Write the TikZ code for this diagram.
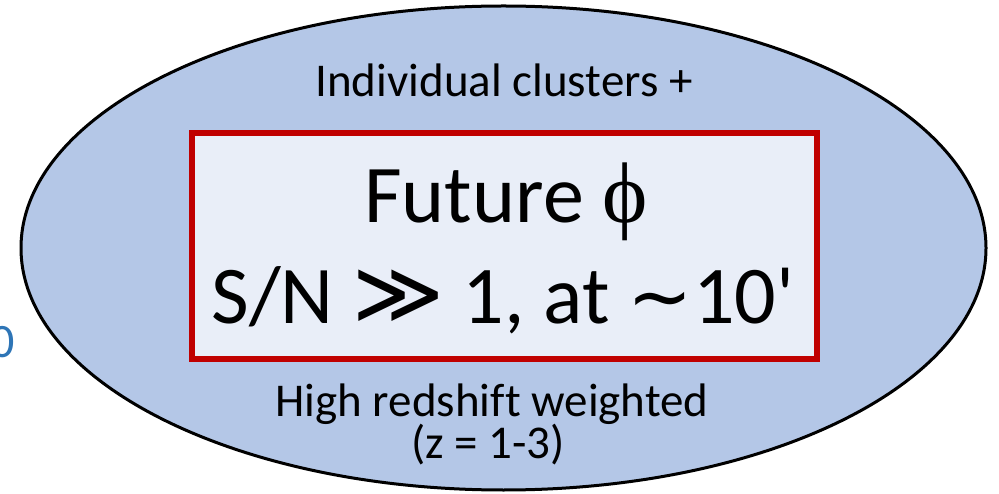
\documentclass[tikz,border=0pt]{standalone}
\usepackage{fontspec}
\setmainfont{Carlito}[Ligatures=NoCommon]
\newfontfamily\serifsym{Liberation Serif}
\newfontfamily\mathsym{DejaVu Sans}
\definecolor{ovalfill}{HTML}{B4C7E7}
\definecolor{boxfill}{HTML}{E9EEF8}
\definecolor{boxline}{HTML}{C00000}
\definecolor{sidetext}{HTML}{2E75B6}
\tikzset{
  oval/.style={draw=black, line width=3pt, fill=ovalfill},
  redbox/.style={draw=boxline, line width=6pt, fill=boxfill},
  midtext/.style={anchor=base, inner sep=0pt, font=\fontsize{47}{54}\selectfont},
  bigtext/.style={anchor=base, inner sep=0pt, font=\fontsize{82}{96}\selectfont}
}
\begin{document}
\begin{tikzpicture}[x=1pt,y=-1pt]
  \useasboundingbox (0,0) rectangle (999,494);
  \clip (0,0) rectangle (999,494);
  % outer oval
  \draw[oval] (503.5,248) ellipse [x radius=482.5, y radius=242];
  % inner framed panel
  \draw[redbox] (191.5,133.5) rectangle (817,359);
  % labels
  \node[midtext] (top) at (504,97) {Individual clusters +};
  \node[bigtext] (fut) at (506,223) {Future {\serifsym\fontsize{86}{96}\selectfont ϕ}};
  \node[bigtext] (sn) at (503,324) {S/N {\mathsym\fontsize{88}{96}\selectfont ≫} 1, at {\mathsym\fontsize{78}{96}\selectfont ∼}10\textquotesingle};
  \node[midtext] (hr) at (492,416) {High redshift weighted};
  \node[midtext] (zr) at (488,458) {(z = 1-3)};
  % text running in from the left edge
  \node[anchor=base east, inner sep=0pt, text=sidetext, font=\fontsize{48}{56}\selectfont] (side) at (15,358) {0};
\end{tikzpicture}
\end{document}
